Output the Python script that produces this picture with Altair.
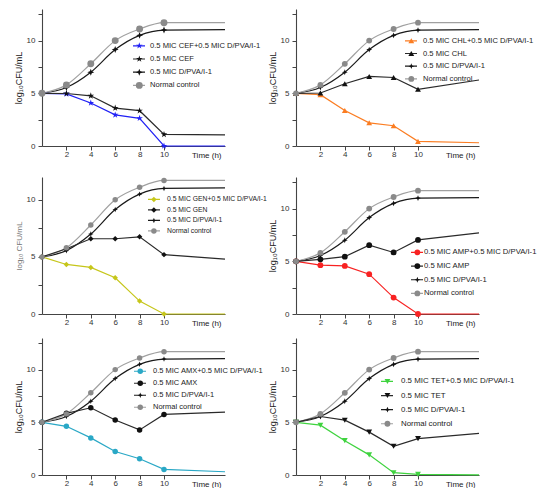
import altair as alt
import pandas as pd

# ---------------- data ----------------
TIMES = [0, 2, 4, 6, 8, 10, 15]
NORMAL = [5.0, 5.8, 7.8, 10.0, 11.1, 11.7, 11.7]
DPVA = [5.0, 5.55, 7.0, 9.15, 10.5, 11.0, 11.05]

DRUGS = ["CEF", "CHL", "GEN", "AMP", "AMX", "TET"]
DRUG_ALONE = {
    "CEF": [5.0, 4.98, 4.76, 3.6, 3.35, 1.1, 1.05],
    "CHL": [5.0, 5.03, 5.91, 6.6, 6.5, 5.38, 6.26],
    "GEN": [5.0, 5.72, 6.59, 6.59, 6.76, 5.2, 4.8],
    "AMP": [5.0, 5.19, 5.44, 6.53, 5.84, 7.03, 7.69],
    "AMX": [5.0, 5.85, 6.38, 5.22, 4.28, 5.75, 5.97],
    "TET": [5.0, 5.55, 5.2, 4.07, 2.73, 3.45, 3.95],
}
COMBO = {
    "CEF": [5.0, 4.95, 4.08, 2.95, 2.63, 0.0, 0.0],
    "CHL": [5.0, 4.87, 3.36, 2.2, 1.92, 0.44, 0.31],
    "GEN": [5.0, 4.34, 4.08, 3.18, 1.13, 0.0, 0.0],
    "AMP": [5.0, 4.63, 4.56, 3.78, 1.56, 0.0, 0.0],
    "AMX": [5.0, 4.62, 3.52, 2.23, 1.54, 0.53, 0.31],
    "TET": [5.0, 4.73, 3.26, 1.91, 0.22, 0.06, 0.02],
}
Y_MAX = {"CEF": 13, "CHL": 13, "GEN": 12, "AMP": 13, "AMX": 13, "TET": 13}
Y_TITLE = {"CEF": "log₁₀CFU/mL", "CHL": "log₁₀CFU/mL", "GEN": "log₁₀ CFU/mL",
           "AMP": "log₁₀CFU/mL", "AMX": "log₁₀CFU/mL", "TET": "log₁₀CFU/mL"}

# ---------------- styles ----------------
STAR = "M0,-1L0.2245,-0.309L0.951,-0.309L0.363,0.118L0.588,0.809L0,0.382L-0.588,0.809L-0.363,0.118L-0.951,-0.309L-0.2245,-0.309Z"
SPARK = "M0,-1L0.28,-0.28L1,0L0.28,0.28L0,1L-0.28,0.28L-1,0L-0.28,-0.28Z"
COMBO_COLOR = {"CEF": "#2020f5", "CHL": "#fb7d22", "GEN": "#c6c61a",
               "AMP": "#f82222", "AMX": "#2aa8c6", "TET": "#3fd33f"}
SHAPE = {"CEF": STAR, "CHL": "triangle-up", "GEN": "diamond",
         "AMP": "circle", "AMX": "circle", "TET": "triangle-down"}
MSIZE = {"CEF": 48, "CHL": 34, "GEN": 30, "AMP": 34, "AMX": 30, "TET": 34}
# legend: x, y (top), font size, row spacing, label offset
LEG = {"CEF": (90, 33, 7.6, 11.8, 4), "CHL": (108, 28, 7.6, 11.3, 5),
       "GEN": (105, 19, 6.8, 9.3, 6), "AMP": (114, 71.5, 7.7, 12.4, 0),
       "AMX": (91, 29.5, 7.5, 10.5, 6), "TET": (84, 39.5, 7.9, 13, 7)}

W, H = 183, 137
FONT = "Liberation Sans"


def panel(drug):
    names = [f"0.5 MIC {drug}+0.5 MIC D/PVA/I-1", f"0.5 MIC {drug}",
             "0.5 MIC D/PVA/I-1", "Normal control"]
    codes = ["k1", "k2", "k3", "k4"]
    series = [COMBO[drug], DRUG_ALONE[drug], DPVA, NORMAL]
    rows = []
    for i, (nm, cd, vals) in enumerate(zip(names, codes, series)):
        for t, v in zip(TIMES, vals):
            rows.append({"time": t, "value": v, "series": nm, "code": cd,
                         "grow": i >= 2})
    df = pd.DataFrame(rows)

    line_colors = [COMBO_COLOR[drug], "#2a2a2a", "#1a1a1a", "#a0a0a0"]
    mark_colors = [COMBO_COLOR[drug], "#111111", "#111111", "#8a8a8a"]
    shapes = [SHAPE[drug], SHAPE[drug], SPARK, "circle"]
    sizes = [MSIZE[drug], MSIZE[drug], 22, 28]
    lx, ly, fs, sp, lo = LEG[drug]
    ymax = Y_MAX[drug]
    yvals = [v for v in [0, 2.5, 5, 7.5, 10, 12.5] if v <= ymax]

    x = alt.X("time:Q", scale=alt.Scale(domain=[0, 15], nice=False, zero=False),
              axis=alt.Axis(values=[2, 4, 6, 8, 10], title="Time (h)",
                            titleAnchor="end", titleAlign="right", titleBaseline="top",
                            titleX=W - 4, titleY=5, titleFontSize=8,
                            titleFontWeight="normal", labelPadding=0))
    y = alt.Y("value:Q", scale=alt.Scale(domain=[0, ymax], nice=False),
              axis=alt.Axis(values=yvals, title=Y_TITLE[drug],
                            labelExpr="datum.value % 5 === 0 ? datum.label : ''",
                            titleFontSize=9 if drug != "GEN" else 8,
                            titleColor="#222" if drug != "GEN" else "#777",
                            titleFontWeight="normal", titlePadding=3, labelPadding=3))

    clip = fs
    line_leg = alt.Legend(orient="none", legendX=lx, legendY=ly, title=None,
                          symbolType="stroke", symbolSize=144, symbolStrokeWidth=1.2,
                          labelFontSize=fs, rowPadding=sp - clip, clipHeight=clip,
                          labelOffset=lo, labelFont=FONT, labelColor="#222")
    pt_leg = alt.Legend(orient="none", legendX=lx + 3.5, legendY=ly, title=None,
                        symbolSize=26, symbolStrokeWidth=0, clipHeight=clip,
                        labelFontSize=fs, rowPadding=sp - clip, labelOffset=lo,
                        labelExpr="''", labelFont=FONT)

    stroke = alt.Stroke("series:N", scale=alt.Scale(domain=names, range=line_colors),
                        legend=line_leg)
    base = alt.Chart(df).encode(x=x, y=y)
    lin = base.transform_filter("!datum.grow").mark_line(strokeWidth=1.2).encode(stroke=stroke)
    mono = base.transform_filter("datum.grow").mark_line(
        strokeWidth=1.2, interpolate="monotone").encode(stroke=stroke)
    pts = base.transform_filter("datum.time <= 10").mark_point(
        filled=True, opacity=1).encode(
        color=alt.Color("code:N", scale=alt.Scale(domain=codes, range=mark_colors), legend=pt_leg),
        shape=alt.Shape("code:N", scale=alt.Scale(domain=codes, range=shapes), legend=pt_leg),
        size=alt.Size("code:N", scale=alt.Scale(domain=codes, range=sizes), legend=None),
    )
    return alt.layer(mono, lin, pts).properties(width=W, height=H)


RES = dict(color="independent", stroke="independent", shape="independent", size="independent")

rows = []
for i in range(0, 6, 2):
    rows.append(alt.hconcat(panel(DRUGS[i]), panel(DRUGS[i + 1]), spacing=71,
                            bounds="flush").resolve_scale(**RES))

upper = alt.vconcat(rows[0], rows[1], spacing=18).resolve_scale(**RES)
chart = alt.vconcat(upper, rows[2], spacing=11).resolve_scale(**RES).properties(
    padding={"left": 6, "top": 1, "right": 0, "bottom": 0}
).configure_view(stroke=None).configure_axis(
    grid=False, labelFont=FONT, titleFont=FONT, labelFontSize=8, labelColor="#333",
    domainColor="#444", tickColor="#444", domainWidth=1.1, tickWidth=1, tickSize=4,
    titleColor="#222"
).configure_legend(labelFont=FONT)

chart.save("out.html", embed_options={"renderer": "svg", "actions": False})
